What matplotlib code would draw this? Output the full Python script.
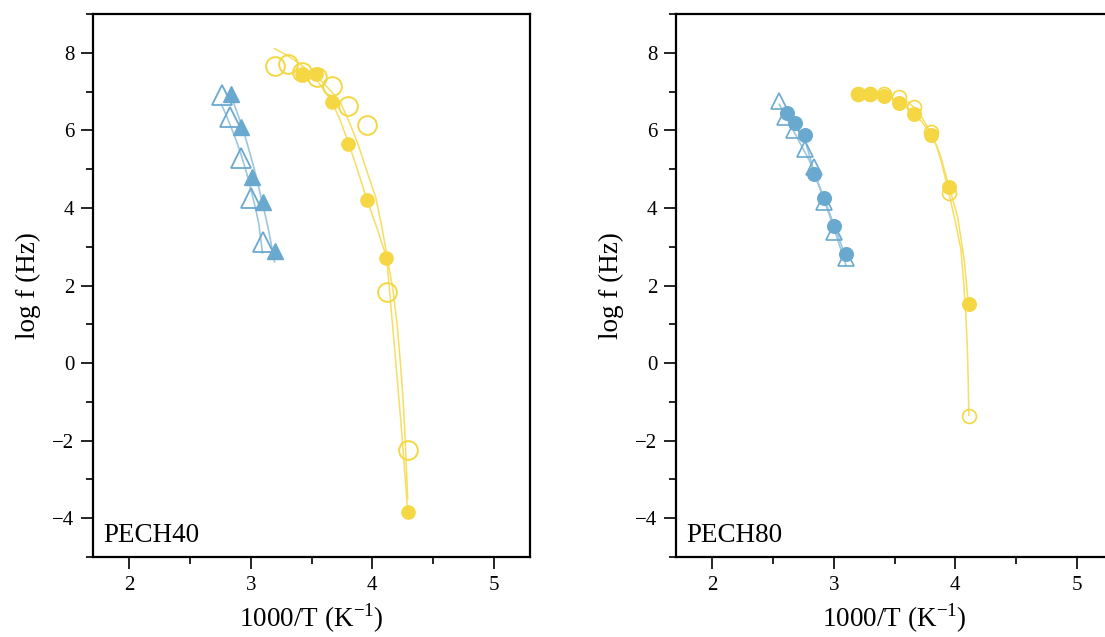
import matplotlib
matplotlib.use("Agg")
import matplotlib.pyplot as plt
from matplotlib.ticker import MultipleLocator

plt.rcParams['font.family'] = ['Liberation Serif', 'DejaVu Serif']
plt.rcParams['mathtext.fontset'] = 'custom'
plt.rcParams['mathtext.rm'] = 'Liberation Serif'
plt.rcParams['axes.unicode_minus'] = True

BLUE = "#6aa9cf"
BLUE_LINE = "#9cc6e0"
YELLOW = "#f5d744"
YELLOW_LINE = "#f7dd60"

# ---- PECH40 ----
p40_blue_open_x = [2.76, 2.83, 2.92, 3.00, 3.10]
p40_blue_open_y = [6.90, 6.35, 5.28, 4.26, 3.13]
p40_blue_fill_x = [2.84, 2.92, 3.006, 3.10, 3.195]
p40_blue_fill_y = [6.95, 6.09, 4.80, 4.16, 2.88]
p40_yel_open_x = [3.198, 3.305, 3.418, 3.542, 3.665, 3.803, 3.954, 4.119, 4.292]
p40_yel_open_y = [7.67, 7.72, 7.50, 7.37, 7.14, 6.63, 6.13, 1.84, -2.24]
p40_yel_fill_x = [3.418, 3.533, 3.665, 3.803, 3.954, 4.116, 4.292]
p40_yel_fill_y = [7.46, 7.46, 6.73, 5.64, 4.21, 2.70, -3.84]

# fit curves
p40_blue_open_fit_x = [2.758, 2.80, 2.841, 2.883, 2.923, 2.965, 3.006, 3.035, 3.063, 3.096]
p40_blue_open_fit_y = [6.67, 6.37, 6.05, 5.71, 5.34, 4.90, 4.41, 4.03, 3.64, 2.84]
p40_blue_fill_fit_x = [2.833, 2.874, 2.915, 2.956, 2.997, 3.040, 3.080, 3.115, 3.146, 3.195]
p40_blue_fill_fit_y = [6.90, 6.57, 6.21, 5.81, 5.36, 4.86, 4.33, 3.86, 3.43, 2.61]
p40_yel_open_fit_x = [3.195, 3.30, 3.41, 3.50, 3.591, 3.67, 3.740, 3.81, 3.880, 3.95,
	4.028, 4.08, 4.127, 4.17, 4.205, 4.232, 4.255, 4.272, 4.285, 4.292]
p40_yel_open_fit_y = [8.11, 7.93, 7.70, 7.48, 7.24, 6.98, 6.70, 6.22, 5.67, 5.00,
	4.28, 3.50, 2.66, 1.90, 1.00, 0.00, -1.00, -2.00, -3.00, -3.50]
p40_yel_fill_fit_x = [3.410, 3.48, 3.542, 3.60, 3.665, 3.735, 3.805, 3.88, 3.954, 4.04,
	4.119, 4.185, 4.243, 4.292]
p40_yel_fill_fit_y = [7.55, 7.45, 7.29, 7.06, 6.75, 6.27, 5.67, 4.97, 4.23, 3.47,
	2.71, 0.35, -1.79, -3.84]

# ---- PECH80 ----
p80_blue_open_x = [2.545, 2.594, 2.672, 2.759, 2.836, 2.918, 3.003, 3.099]
p80_blue_open_y = [6.76, 6.35, 6.00, 5.53, 5.06, 4.16, 3.39, 2.71]
p80_blue_fill_x = [2.614, 2.682, 2.759, 2.836, 2.918, 3.003, 3.099]
p80_blue_fill_y = [6.46, 6.18, 5.88, 4.87, 4.26, 3.54, 2.82]
p80_yel_open_x = [3.198, 3.301, 3.416, 3.535, 3.663, 3.800, 3.950, 4.110]
p80_yel_open_y = [6.95, 6.95, 6.93, 6.85, 6.61, 5.95, 4.39, -1.36]
p80_yel_fill_x = [3.198, 3.301, 3.416, 3.535, 3.663, 3.800, 3.950, 4.110]
p80_yel_fill_y = [6.95, 6.95, 6.88, 6.71, 6.43, 5.88, 4.55, 1.53]

p80_blue_open_fit_x = [2.551, 2.674, 2.797, 2.921, 3.011, 3.101]
p80_blue_open_fit_y = [6.67, 5.95, 5.23, 4.20, 3.38, 2.51]
p80_blue_fill_fit_x = [2.616, 2.756, 2.838, 2.921, 3.003, 3.101]
p80_blue_fill_fit_y = [6.44, 5.82, 4.92, 4.23, 3.54, 2.72]
p80_yel_open_fit_x = [3.537, 3.600, 3.660, 3.730, 3.800, 3.845, 3.882, 3.948, 4.000,
	4.047, 4.070, 4.088, 4.100, 4.107, 4.112]
p80_yel_open_fit_y = [6.85, 6.75, 6.59, 6.31, 5.93, 5.60, 5.23, 4.38, 3.65,
	2.92, 2.05, 1.20, 0.35, -0.50, -1.35]
p80_yel_fill_fit_x = [3.422, 3.480, 3.537, 3.600, 3.660, 3.730, 3.800, 3.845, 3.882,
	3.948, 4.019, 4.074, 4.102, 4.112]
p80_yel_fill_fit_y = [6.88, 6.81, 6.72, 6.60, 6.44, 6.20, 5.88, 5.62, 5.31,
	4.56, 3.78, 2.66, 1.72, 1.53]


def style_axes(ax, label):
	ax.set_xlim(1.7, 5.3)
	ax.set_ylim(-5, 9)
	ax.xaxis.set_major_locator(MultipleLocator(1))
	ax.xaxis.set_minor_locator(MultipleLocator(0.5))
	ax.yaxis.set_major_locator(MultipleLocator(2))
	ax.yaxis.set_minor_locator(MultipleLocator(1))
	ax.tick_params(which="both", direction="out", top=False, right=False,
		labelsize=15, width=1.2)
	ax.tick_params(which="major", length=8.5, pad=5)
	ax.tick_params(which="minor", length=5)
	for s in ax.spines.values():
		s.set_linewidth(1.6)
	ax.set_xlabel("1000/T (K$^{-1}$)", fontsize=19.5, labelpad=5)
	ax.set_ylabel("log f (Hz)", fontsize=19.5, labelpad=8)
	ax.text(0.023, 0.028, label, transform=ax.transAxes, fontsize=19.5,
		ha="left", va="baseline")


fig = plt.figure(figsize=(11.05, 6.37), dpi=100)
ax1 = fig.add_axes([0.0842, 0.1256, 0.3955, 0.8524])
ax2 = fig.add_axes([0.6118, 0.1256, 0.3955, 0.8524])

# left panel
ax1.plot(p40_blue_open_fit_x, p40_blue_open_fit_y, color=BLUE_LINE, lw=1.2)
ax1.plot(p40_blue_fill_fit_x, p40_blue_fill_fit_y, color=BLUE_LINE, lw=1.2)
ax1.plot(p40_yel_open_fit_x, p40_yel_open_fit_y, color=YELLOW_LINE, lw=1.1)
ax1.plot(p40_yel_fill_fit_x, p40_yel_fill_fit_y, color=YELLOW_LINE, lw=1.1)
ax1.plot(p40_blue_open_x, p40_blue_open_y, ls="none", marker="^", ms=14,
	mfc="none", mec=BLUE, mew=1.3)
ax1.plot(p40_blue_fill_x, p40_blue_fill_y, ls="none", marker="^", ms=11.5,
	color=BLUE, mec=BLUE)
ax1.plot(p40_yel_open_x, p40_yel_open_y, ls="none", marker="o", ms=13.5,
	mfc="none", mec=YELLOW, mew=1.4)
ax1.plot(p40_yel_fill_x, p40_yel_fill_y, ls="none", marker="o", ms=9.5,
	color=YELLOW, mec=YELLOW)
style_axes(ax1, "PECH40")

# right panel
ax2.plot(p80_blue_open_fit_x, p80_blue_open_fit_y, color=BLUE_LINE, lw=1.2)
ax2.plot(p80_blue_fill_fit_x, p80_blue_fill_fit_y, color=BLUE_LINE, lw=1.2)
ax2.plot(p80_yel_open_fit_x, p80_yel_open_fit_y, color=YELLOW_LINE, lw=1.1)
ax2.plot(p80_yel_fill_fit_x, p80_yel_fill_fit_y, color=YELLOW_LINE, lw=1.1)
ax2.plot(p80_blue_open_x, p80_blue_open_y, ls="none", marker="^", ms=11,
	mfc="none", mec=BLUE, mew=1.2)
ax2.plot(p80_blue_fill_x, p80_blue_fill_y, ls="none", marker="o", ms=9.8,
	color=BLUE, mec=BLUE)
ax2.plot(p80_yel_open_x, p80_yel_open_y, ls="none", marker="o", ms=10,
	mfc="none", mec=YELLOW, mew=1.2)
ax2.plot(p80_yel_fill_x, p80_yel_fill_y, ls="none", marker="o", ms=9.8,
	color=YELLOW, mec=YELLOW)
style_axes(ax2, "PECH80")

fig.savefig("out.png", dpi=100)
